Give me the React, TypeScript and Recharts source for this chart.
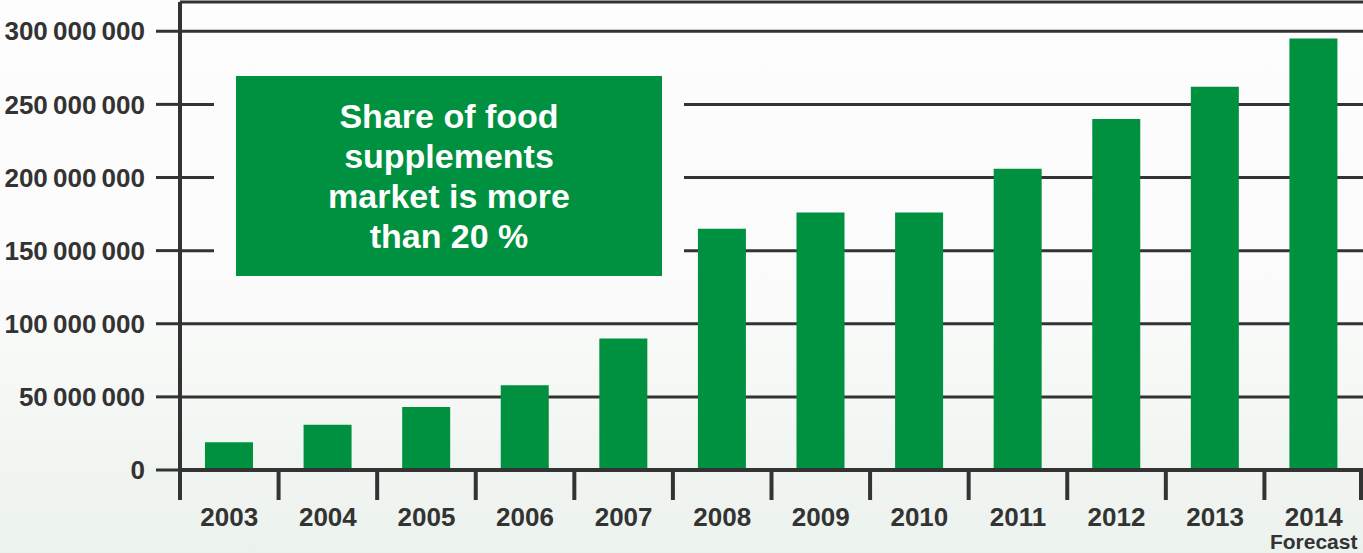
import { BarChart, Bar, XAxis, YAxis, CartesianGrid } from "recharts";

// 数据
const years = ["2003", "2004", "2005", "2006", "2007", "2008", "2009", "2010", "2011", "2012", "2013", "2014"];
const marketValues = [19000000, 31000000, 43000000, 58000000, 90000000, 165000000, 176000000, 176000000, 206000000, 240000000, 262000000, 295000000];
const yTicks = [0, 50000000, 100000000, 150000000, 200000000, 250000000, 300000000];
const forecastYear = "2014";
const boxLines = ["Share of food", "supplements", "market is more", "than 20 %"];

const data = years.map((year, i) => ({ year, value: marketValues[i] }));

const INK = "#333333";
const GREEN = "#009140";
const FONT = "'Liberation Sans', Arial, sans-serif";
const BG = "linear-gradient(to bottom, #fdfdfd 0%, #fafbfa 55%, #ecf2ed 100%)";

// 千位空格
const formatTick = (v: number) => String(v).replace(/\B(?=(\d{3})+(?!\d))/g, "\u2009");

function YearTick(props: any) {
    const { x, y, payload } = props;
    const half = payload.offset ?? 49.3;
    const axisY = 470;
    const isLast = payload.value === forecastYear;
    return (
        <g>
            <line x1={x - half} x2={x - half} y1={axisY} y2={axisY + 30} stroke={INK} strokeWidth={4} />
            {isLast && (
                <line x1={x + half - 2} x2={x + half - 2} y1={axisY} y2={axisY + 30} stroke={INK} strokeWidth={4} />
            )}
            <text x={x} y={y} dy="0.71em" textAnchor="middle" fill={INK} fontSize={26} fontWeight="bold" fontFamily={FONT}>
                {payload.value}
            </text>
            {isLast && (
                <text x={x} y={y + 26} dy="0.71em" textAnchor="middle" fill={INK} fontSize={21} fontWeight="bold" fontFamily={FONT}>
                    Forecast
                </text>
            )}
        </g>
    );
}

export default function App() {
    return (
        <div
            style={{
                position: "absolute",
                left: 0,
                top: 0,
                width: 1363,
                height: 553,
                overflow: "hidden",
                background: BG,
                fontFamily: FONT,
            }}
        >
            <BarChart
                width={1363}
                height={553}
                data={data}
                margin={{ top: 2, right: 0, left: 0, bottom: 0 }}
                barSize={48}
            >
                <CartesianGrid vertical={false} stroke={INK} strokeWidth={3} />
                <XAxis
                    dataKey="year"
                    height={83}
                    axisLine={{ stroke: INK, strokeWidth: 4 }}
                    tickLine={false}
                    tickSize={30}
                    tickMargin={8}
                    tick={<YearTick />}
                    interval={0}
                />
                <YAxis
                    width={180}
                    domain={[0, 320000000]}
                    ticks={yTicks}
                    allowDataOverflow
                    axisLine={{ stroke: INK, strokeWidth: 4 }}
                    tickLine={{ stroke: INK, strokeWidth: 3 }}
                    tickSize={24}
                    tickMargin={11}
                    tickFormatter={formatTick}
                    tick={{ fill: INK, fontSize: 26, fontWeight: "bold", fontFamily: FONT }}
                />
                <Bar dataKey="value" fill={GREEN} isAnimationActive={false} />
            </BarChart>
            {/* 文本框周围的留白 */}
            <div
                style={{
                    position: "absolute",
                    left: 214,
                    top: 54,
                    width: 470,
                    height: 244,
                    background: BG,
                    backgroundSize: "1363px 553px",
                    backgroundPosition: "-214px -54px",
                    backgroundRepeat: "no-repeat",
                }}
            />
            <div
                style={{
                    position: "absolute",
                    left: 236,
                    top: 76,
                    width: 426,
                    height: 200,
                    background: GREEN,
                    color: "#ffffff",
                    fontWeight: "bold",
                    fontSize: 34,
                    lineHeight: "40px",
                    textAlign: "center",
                    display: "flex",
                    flexDirection: "column",
                    justifyContent: "center",
                }}
            >
                {boxLines.map((line) => (
                    <div key={line}>{line}</div>
                ))}
            </div>
        </div>
    );
}
